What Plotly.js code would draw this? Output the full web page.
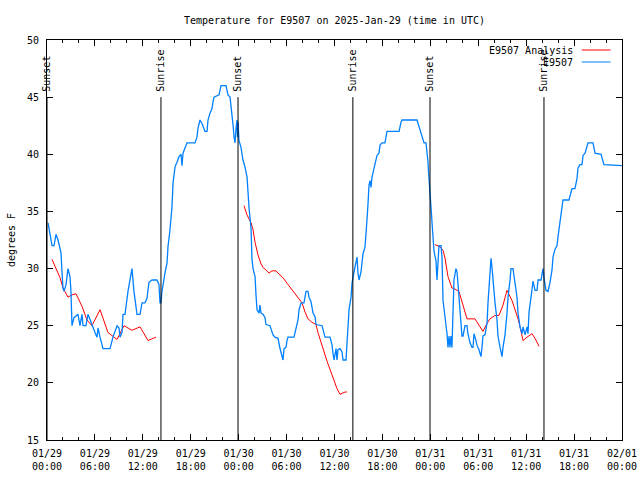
<!DOCTYPE html>
<html>
<head>
<meta charset="utf-8">
<script src="https://cdn.plot.ly/plotly-3.0.1.min.js"></script>
<style>html,body{margin:0;padding:0;background:#fff;}#chart{width:640px;height:480px;}</style>
</head>
<body>
<div id="chart"></div>
<script>
// Hours since 2025-01-29 00:00 UTC
var obsHours = [0.13,0.38,0.63,0.88,1.13,1.38,1.75,1.88,2.0,2.13,2.38,2.63,2.88,3.0,3.13,3.38,3.76,3.88,4.13,4.38,4.51,4.88,5.13,5.38,5.63,6.01,6.26,6.39,6.64,7.01,7.89,8.26,8.77,9.02,9.14,9.39,9.52,9.77,10.14,10.39,10.64,10.89,11.27,11.65,11.9,12.27,12.52,12.77,13.15,13.77,14.02,14.15,14.27,14.4,14.52,14.77,15.03,15.15,15.4,15.65,15.78,16.03,16.28,16.53,16.78,16.9,17.03,17.28,17.53,18.53,18.78,18.91,19.16,19.41,19.78,20.04,20.16,20.41,20.66,20.79,20.91,21.54,21.79,22.41,22.66,22.92,23.17,23.29,23.42,23.54,23.67,23.79,23.85,23.92,24.04,24.29,24.54,24.79,25.05,25.17,25.3,25.55,25.67,25.8,26.05,26.17,26.3,26.55,26.67,26.8,27.05,27.3,27.42,27.92,28.17,28.3,28.55,28.93,29.18,29.43,29.55,29.68,29.93,30.05,30.18,30.93,31.18,31.43,31.56,31.81,32.18,32.43,32.68,32.81,33.06,33.31,33.56,33.68,34.44,34.56,34.81,35.44,35.69,35.81,35.94,36.19,36.31,36.44,36.69,36.94,37.07,37.44,37.57,37.69,37.82,38.07,38.19,38.44,38.69,38.82,38.94,39.07,39.32,39.44,39.57,39.82,39.94,40.07,40.2,40.32,40.45,40.57,40.7,40.95,41.2,41.32,41.57,41.7,41.95,42.32,42.57,44.08,44.33,44.45,46.33,46.58,46.83,47.08,47.21,47.46,47.58,47.71,47.77,47.83,47.96,48.08,48.21,48.33,48.46,48.71,48.83,48.96,49.08,49.34,49.46,49.59,49.71,49.84,50.09,50.21,50.34,50.46,50.59,50.71,50.84,50.96,51.21,51.34,51.46,51.71,51.96,52.09,52.34,52.59,52.71,52.97,53.22,53.34,53.47,53.72,53.84,54.09,54.34,54.47,54.59,54.84,55.1,55.22,55.47,55.6,55.72,55.85,56.1,56.35,56.47,56.73,56.98,57.1,57.35,57.6,57.73,57.98,58.1,58.35,58.6,58.85,58.98,59.23,59.48,59.61,59.86,60.11,60.23,60.36,60.61,60.73,60.86,61.11,61.36,61.49,61.86,61.98,62.11,62.23,62.48,62.73,62.99,63.24,63.36,63.61,63.86,63.99,64.11,64.24,64.36,64.49,64.61,65.36,65.61,65.74,66.11,66.37,66.49,66.74,66.99,67.12,67.37,67.62,67.74,68.37,68.62,69.37,69.62,69.74,72.0];
var obsTemps = [34,33,32,32,33,32.5,31.4,29.7,28.3,28,28.6,30,29.3,28,25,25.7,26,26,25,26,25,25,26,25.5,25,24.4,24,24.8,24,23,23,24,25,24.8,24,24.4,26,26,28,29,30,28,26,26,27,27,27.4,28.8,29,29,28.6,27,27,28,28.7,29.6,30.5,31.9,33.4,35.4,37.5,38.9,39.3,39.8,40,39,40.1,40.6,41,41,41.5,42.3,43,42.7,42,42,43,43.6,44,44.6,45,45.2,46,46,45.2,45,43.6,42.6,41.5,41,42.3,43,41.5,42.8,41.2,40.6,39.5,38.9,38,36.6,35.3,33.5,30.8,30,29.3,27.7,26.4,26.1,26.8,26.1,26,25.7,25.1,25,24.5,24.2,24,23.9,23,22.4,22,23,23.1,23.7,24,24,24.8,25.5,26.4,27,27,28,28,27.5,27.1,26.1,25.8,25.1,25,24.6,24,24,23.3,22.6,22,23,22,22.9,23,22.7,22,22,23.5,24.5,26.4,27.5,28.7,29.7,30.7,31,29.6,29,29.7,30.7,31.3,31.9,32.8,34.3,35.7,37.3,37.7,37.1,38,38.8,39.3,39.9,40.1,40.8,41,41,42,42,42.8,43,43,42.4,42,41.3,41,41,40.4,39.3,38.5,37.6,36.6,35.4,34.3,33.2,31.5,30.7,29,30.5,32,32,31,27.2,26.6,25.5,24.3,23.1,24.1,23.1,24.1,23.1,26.6,29,30,29.7,28.7,26.6,24.1,24.1,25,25,24.3,23.5,23.1,23.1,24.3,23.7,23.3,22.9,22.3,23.1,24.1,24.2,25.2,27,29.3,30.9,30.1,28.7,27,25.5,24.1,23.1,22.3,23.1,24.2,26.1,27.5,29,30,30,28.7,27.5,26.1,24.9,24.3,24.9,24.2,24.9,24.3,26.2,27.5,28.5,28.9,28.1,28.1,29,29,29.5,30,29.2,28.1,28,28.8,29.9,31,31.7,32,32.8,33.5,34.4,35,35.7,36,36,36.6,37,37,37.9,38.8,39.1,39.1,39.9,40.1,40.7,41,41,40.1,40,39.5,39.1,39];

var anaHours = [0.63,1.63,2.0,2.63,3.13,3.63,4.38,5.01,5.63,6.64,7.64,8.14,8.77,9.64,10.64,11.65,12.65,13.65,null,24.67,25.04,25.55,25.8,26.05,26.42,26.8,27.05,27.55,27.8,28.17,28.68,28.93,29.55,30.18,30.8,31.43,31.93,32.31,32.68,33.18,33.68,33.93,34.44,35.06,35.69,36.31,36.69,37.32,37.57,null,48.58,49.21,49.59,49.84,50.21,50.71,51.09,51.59,52.09,52.59,53.59,54.09,54.59,55.1,55.47,56.1,56.6,57.1,57.6,58.23,58.6,58.98,59.23,59.61,60.11,60.73,61.11,61.61];
var anaTemps = [30.8,29.2,28.3,27.5,27.7,27.8,26.7,25.5,25,26.4,24.4,24.1,23.8,25,24.6,24.9,23.7,24.0,null,35.5,34.7,34,33.4,32.3,31.2,30.4,30.1,29.8,29.6,29.8,29.8,29.6,29.2,28.6,28,27.4,27,26.2,25.6,25.3,25.1,24.4,23.2,21.9,20.7,19.5,19,19.2,19.2,null,32.1,31.9,31.6,30.9,29.3,28.3,28.2,28.0,26.8,25.6,25.6,25.1,24.5,25.2,25.6,25.9,25.9,26.8,28.1,27.2,26.5,25.6,24.9,23.7,24,24.3,23.9,23.2];

var sunsetHours = [0.0, 23.92, 47.96];
var sunriseHours = [14.27, 38.3, 62.23];
var markerTop = 45;
var markerLabelY = 45.3;

var tickHours = [0,6,12,18,24,30,36,42,48,54,60,66,72];
var tickLabels = ["01/29<br>00:00","01/29<br>06:00","01/29<br>12:00","01/29<br>18:00","01/30<br>00:00","01/30<br>06:00","01/30<br>12:00","01/30<br>18:00","01/31<br>00:00","01/31<br>06:00","01/31<br>12:00","01/31<br>18:00","02/01<br>00:00"];

var seriesNames = ["E9507 Analysis", "E9507"];
var seriesColors = ["#ff0000", "#0080ff"];

var FONT = "DejaVu Sans Mono, monospace";

var traces = [
  {x: anaHours, y: anaTemps, type: "scatter", mode: "lines", name: seriesNames[0],
   line: {color: seriesColors[0], width: 1}, connectgaps: false, showlegend: false, hoverinfo: "skip"},
  {x: obsHours, y: obsTemps, type: "scatter", mode: "lines", name: seriesNames[1],
   line: {color: seriesColors[1], width: 1.3}, showlegend: false, hoverinfo: "skip"}
];

var shapes = [];
var annotations = [];
function addMarker(h, label) {
  shapes.push({type: "line", xref: "x", yref: "y", x0: h, x1: h, y0: 15, y1: markerTop,
               line: {color: "#000", width: 1}});
  annotations.push({x: h, y: markerLabelY, xref: "x", yref: "y", text: label, textangle: -90,
                    showarrow: false, xanchor: "center", yanchor: "bottom",
                    font: {family: FONT, size: 10, color: "#000"}});
}
sunsetHours.forEach(function(h){ addMarker(h, "Sunset"); });
sunriseHours.forEach(function(h){ addMarker(h, "Sunrise"); });

// manual legend (text left, sample line right, as in gnuplot)
var legY = [0.975, 0.945];
for (var i = 0; i < seriesNames.length; i++) {
  annotations.push({xref: "paper", yref: "paper", x: 0.919, y: legY[i], text: seriesNames[i],
                    showarrow: false, xanchor: "right", yanchor: "middle",
                    font: {family: FONT, size: 10, color: "#000"}});
  shapes.push({type: "line", xref: "paper", yref: "paper", x0: 0.930, x1: 0.980, y0: legY[i], y1: legY[i],
               line: {color: seriesColors[i], width: 1}});
}

var layout = {
  width: 640, height: 480,
  margin: {l: 47, r: 18, t: 40, b: 40, pad: 0},
  paper_bgcolor: "#fff", plot_bgcolor: "#fff",
  font: {family: FONT, size: 10, color: "#000"},
  showlegend: false,
  title: {text: "Temperature for E9507 on 2025-Jan-29 (time in UTC)", x: 0.5, xref: "paper",
          y: 1 - 20/480, yref: "container", yanchor: "middle", font: {family: FONT, size: 10}},
  xaxis: {range: [0, 72], tickmode: "array", tickvals: tickHours, ticktext: tickLabels,
          ticks: "inside", ticklen: 6, tickcolor: "#000", tickwidth: 1, ticklabelstandoff: 4,
          showline: true, linecolor: "#000", linewidth: 1, mirror: "ticks",
          showgrid: false, zeroline: false, fixedrange: true,
          minor: {dtick: 2, ticks: "inside", ticklen: 3, tickcolor: "#000", showgrid: false},
          tickfont: {family: FONT, size: 10}},
  yaxis: {range: [15, 50], tickmode: "linear", tick0: 15, dtick: 5,
          ticks: "inside", ticklen: 6, tickcolor: "#000", tickwidth: 1, ticklabelstandoff: 5,
          showline: true, linecolor: "#000", linewidth: 1, mirror: "ticks",
          showgrid: false, zeroline: false, fixedrange: true,
          tickfont: {family: FONT, size: 10},
          title: {text: "degrees F", font: {family: FONT, size: 10}, standoff: 9}},
  shapes: shapes,
  annotations: annotations
};

Plotly.newPlot("chart", traces, layout, {staticPlot: true, displayModeBar: false});
</script>
</body>
</html>
